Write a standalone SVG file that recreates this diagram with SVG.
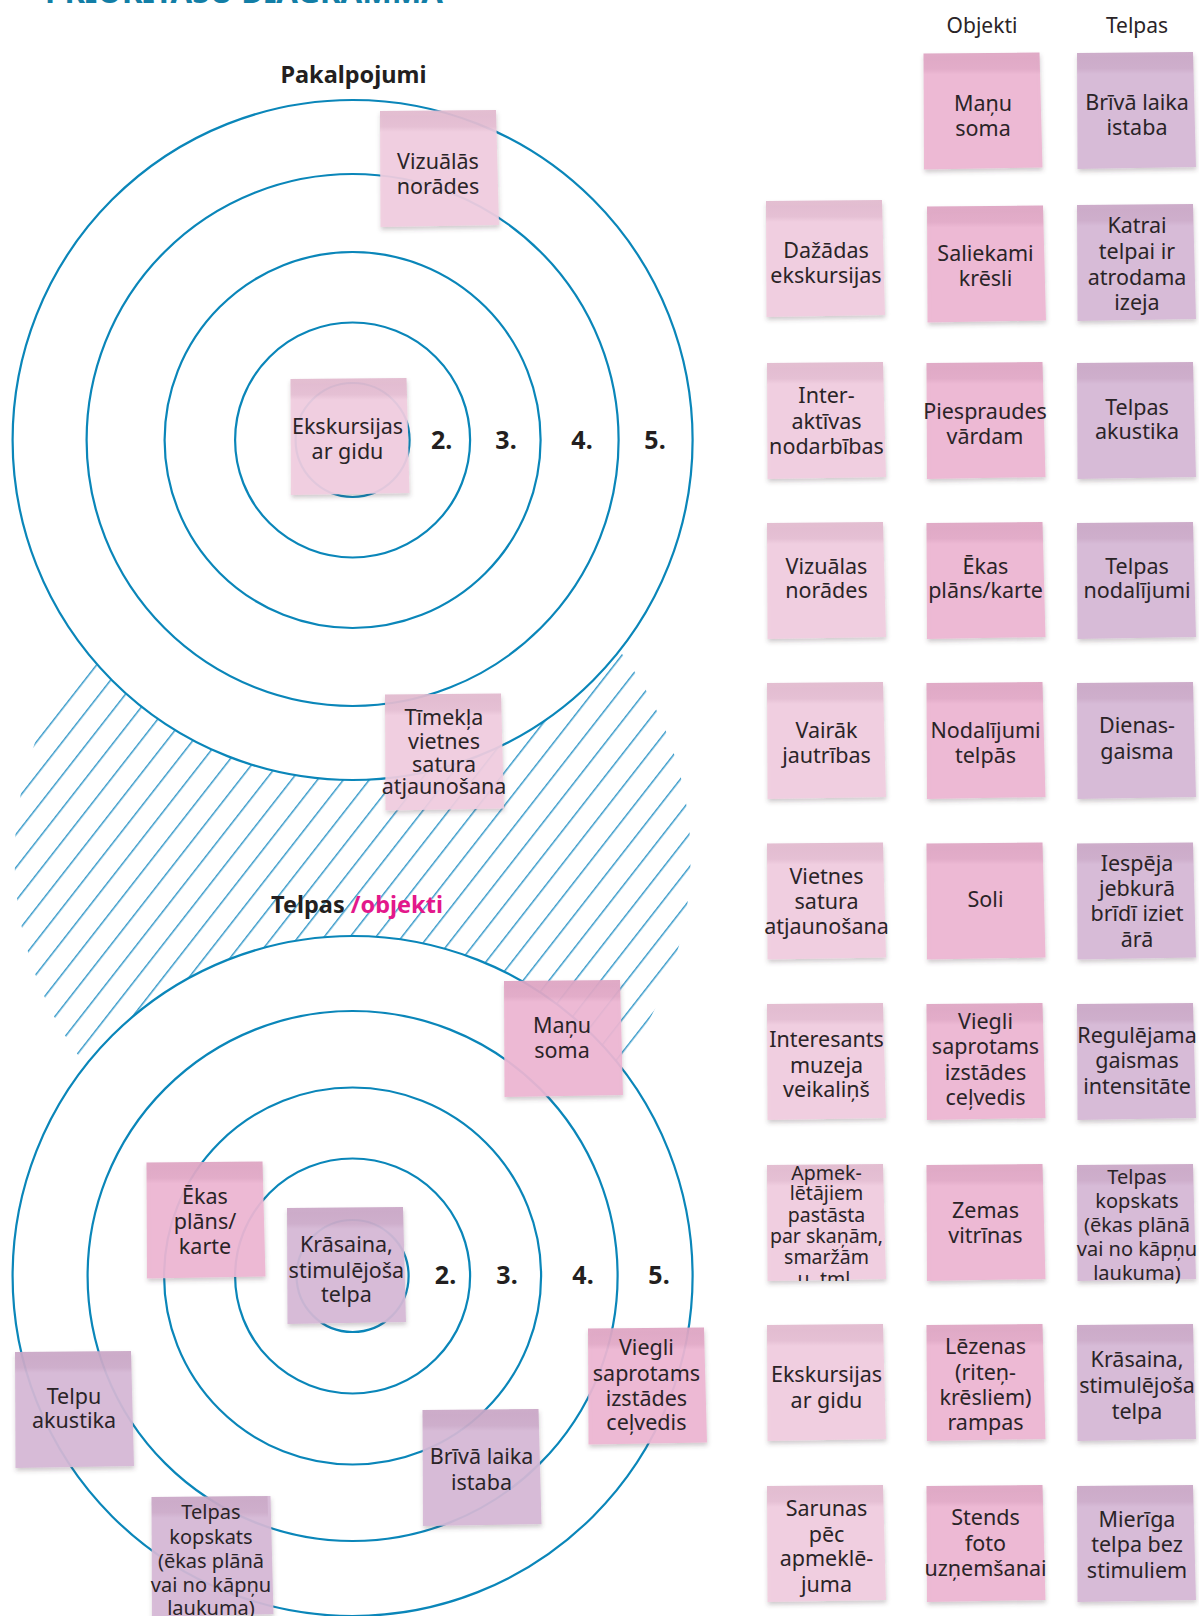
<svg xmlns="http://www.w3.org/2000/svg" xmlns:xlink="http://www.w3.org/1999/xlink" width="1199" height="1616" viewBox="0 0 1199 1616">
  <style>
    .ring { fill: none; stroke: #0a86b9; stroke-width: 2.2; }
    .ring-outer { fill: #ffffff; stroke: #0a86b9; stroke-width: 2.2; }
    .paper { fill-opacity: 0.92; filter: url(#shadow); }
    .obj { fill: #eeb6d2; }
    .svc { fill: #f1cde0; }
    .spc { fill: #d6b9d6; }
    .band { fill: url(#bandGrad); }
    .t { font-family: "Noto Sans", "DejaVu Sans", sans-serif; font-size: 21.5px; fill: #2a2427; text-anchor: middle; }
    .t.small { font-size: 20px; }
    .t.tiny { font-size: 19.5px; }
    .head { font-family: "Noto Sans", "DejaVu Sans", sans-serif; font-size: 21px; fill: #2a2427; text-anchor: middle; }
    .title { font-family: "Noto Sans", "DejaVu Sans", sans-serif; font-size: 23.5px; font-weight: 700; fill: #231f20; }
    .num { font-family: "Noto Sans", "DejaVu Sans", sans-serif; font-size: 25px; font-weight: 700; fill: #231f20; text-anchor: middle; }
    .accent { fill: #e3188b; }
  </style>
  <defs>
    <pattern id="hatch" patternUnits="userSpaceOnUse" width="20.4" height="40" patternTransform="rotate(38)">
      <line x1="16.3" y1="-2" x2="16.3" y2="42" stroke="#1d8cc2" stroke-width="1.3"/>
    </pattern>
    <linearGradient id="bandGrad" x1="0" y1="0" x2="0" y2="1">
      <stop offset="0" stop-color="#6a1f4c" stop-opacity="0.11"/>
      <stop offset="0.75" stop-color="#6a1f4c" stop-opacity="0.08"/>
      <stop offset="1" stop-color="#6a1f4c" stop-opacity="0"/>
    </linearGradient>
    <filter id="shadow" x="-10%" y="-10%" width="125%" height="130%">
      <feDropShadow dx="0.5" dy="3" stdDeviation="2" flood-color="#4a3a46" flood-opacity="0.28"/>
    </filter>
    <!-- sticky-note outline and its adhesive strip -->
    <path id="note" d="M0,1 L116,0 L119,115 L0.5,117 Z"/>
    <path id="noteWide" d="M0,1 L119,0 L122,118 L0.5,121 Z"/>
    <path id="band" d="M0,1 L116,0 L116.6,22 L0.1,22 Z"/>
    <clipPath id="clipApmek">
      <rect x="767" y="1164" width="120" height="117"/>
    </clipPath>
  </defs>

  <rect width="1199" height="1616" fill="#ffffff"/>

  <!-- page heading, only its lower edge falls inside the frame -->
  <text x="45" y="2.5" font-family="Noto Sans, DejaVu Sans, sans-serif" font-size="32" font-weight="700" fill="#127ea6" textLength="398" lengthAdjust="spacingAndGlyphs">PRIORITĀŠU DIAGRAMMA</text>

  <!-- hatched band between the two target diagrams -->
  <g id="hatch-band">
    <circle cx="352.6" cy="858" r="338" fill="url(#hatch)"/>
  </g>

  <!-- concentric rings: services (top) and spaces/objects (bottom) -->
  <g id="rings">
    <g id="rings-services">
      <circle class="ring-outer" cx="352.6" cy="440" r="340"/>
      <circle class="ring" cx="352.6" cy="440" r="266"/>
      <circle class="ring" cx="352.6" cy="440" r="188"/>
      <circle class="ring" cx="352.6" cy="440" r="117.5"/>
      <circle class="ring" cx="352.6" cy="440" r="57"/>
    </g>
    <g id="rings-spaces">
      <circle class="ring-outer" cx="352.6" cy="1276" r="340"/>
      <circle class="ring" cx="352.6" cy="1276" r="265"/>
      <circle class="ring" cx="352.6" cy="1276" r="188.5"/>
      <circle class="ring" cx="352.6" cy="1276" r="117.5"/>
      <circle class="ring" cx="352.6" cy="1276" r="56"/>
    </g>
  </g>

  <!-- diagram captions and ring numbers -->
  <g id="labels">
    <text class="title" x="353.5" y="83" text-anchor="middle">Pakalpojumi</text>
    <text class="title" x="271" y="913">Telpas <tspan class="accent">/objekti</tspan></text>
    <text class="num" x="441.6" y="449">2.</text>
    <text class="num" x="506" y="449">3.</text>
    <text class="num" x="582" y="449">4.</text>
    <text class="num" x="655" y="449">5.</text>
    <text class="num" x="445.5" y="1284">2.</text>
    <text class="num" x="507" y="1284">3.</text>
    <text class="num" x="583" y="1284">4.</text>
    <text class="num" x="659" y="1284">5.</text>
    <text class="head" x="982" y="33">Objekti</text>
    <text class="head" x="1137" y="33">Telpas</text>
  </g>

  <!-- notes placed on the service rings -->
  <g id="ring-svc-vizualas">
    <use href="#note" x="380" y="110" class="paper svc"/>
    <use href="#band" x="380" y="110" class="band"/>
    <text class="t"><tspan x="438" y="169.4">Vizuālās</tspan><tspan x="438" y="194.1">norādes</tspan></text>
  </g>
  <g id="ring-svc-ekskursijas">
    <use href="#note" x="290.5" y="378" class="paper svc"/>
    <use href="#band" x="290.5" y="378" class="band"/>
    <text class="t"><tspan x="347.5" y="434.3">Ekskursijas</tspan><tspan x="347.5" y="459.1">ar gidu</tspan></text>
  </g>
  <g id="ring-svc-timekla">
    <use href="#note" x="385" y="693.5" class="paper svc"/>
    <use href="#band" x="385" y="693.5" class="band"/>
    <text class="t"><tspan x="444" y="725.1">Tīmekļa</tspan><tspan x="444" y="748.8">vietnes</tspan><tspan x="444" y="771.5">satura</tspan><tspan x="444" y="794.2">atjaunošana</tspan></text>
  </g>

  <!-- notes placed on the space/object rings -->
  <g id="ring-obj-manu-soma">
    <use href="#note" x="504" y="980" class="paper obj"/>
    <use href="#band" x="504" y="980" class="band"/>
    <text class="t"><tspan x="562" y="1033.3">Maņu</tspan><tspan x="562" y="1058.1">soma</tspan></text>
  </g>
  <g id="ring-obj-ekas-plans">
    <use href="#note" x="146.5" y="1161.5" class="paper obj"/>
    <use href="#band" x="146.5" y="1161.5" class="band"/>
    <text class="t"><tspan x="205" y="1203.5">Ēkas</tspan><tspan x="205" y="1229.2">plāns/</tspan><tspan x="205" y="1254">karte</tspan></text>
  </g>
  <g id="ring-spc-krasaina">
    <use href="#note" x="287" y="1207" class="paper spc"/>
    <use href="#band" x="287" y="1207" class="band"/>
    <text class="t"><tspan x="346.4" y="1251.9">Krāsaina,</tspan><tspan x="346.4" y="1277.7">stimulējoša</tspan><tspan x="346.4" y="1302.4">telpa</tspan></text>
  </g>
  <g id="ring-spc-telpu-akustika">
    <use href="#note" x="15" y="1351" class="paper spc"/>
    <use href="#band" x="15" y="1351" class="band"/>
    <text class="t"><tspan x="74" y="1403.5">Telpu</tspan><tspan x="74" y="1428.2">akustika</tspan></text>
  </g>
  <g id="ring-obj-viegli">
    <use href="#note" x="588" y="1327.5" class="paper obj"/>
    <use href="#band" x="588" y="1327.5" class="band"/>
    <text class="t"><tspan x="646.4" y="1355">Viegli</tspan><tspan x="646.4" y="1380.8">saprotams</tspan><tspan x="646.4" y="1405.5">izstādes</tspan><tspan x="646.4" y="1430.3">ceļvedis</tspan></text>
  </g>
  <g id="ring-spc-briva">
    <use href="#note" x="422.5" y="1409" class="paper spc"/>
    <use href="#band" x="422.5" y="1409" class="band"/>
    <text class="t"><tspan x="481.5" y="1464.3">Brīvā laika</tspan><tspan x="481.5" y="1490.1">istaba</tspan></text>
  </g>
  <g id="ring-spc-kopskats">
    <use href="#noteWide" x="151.5" y="1496" class="paper spc"/>
    <use href="#band" x="151.5" y="1496" class="band"/>
    <text class="t small"><tspan x="211" y="1518.9">Telpas</tspan><tspan x="211" y="1543.7">kopskats</tspan><tspan x="211" y="1568.4">(ēkas plānā</tspan><tspan x="211" y="1592.1">vai no kāpņu</tspan><tspan x="211" y="1614.8">laukuma)</tspan></text>
  </g>

  <!-- card grid: services / objects / spaces -->
  <g id="grid-obj-manu-soma">
    <use href="#note" x="923.5" y="52.5" class="paper obj"/>
    <use href="#band" x="923.5" y="52.5" class="band"/>
    <text class="t"><tspan x="983" y="110.6">Maņu</tspan><tspan x="983" y="136.4">soma</tspan></text>
  </g>
  <g id="grid-spc-briva">
    <use href="#note" x="1077" y="52" class="paper spc"/>
    <use href="#band" x="1077" y="52" class="band"/>
    <text class="t"><tspan x="1137" y="109.6">Brīvā laika</tspan><tspan x="1137" y="135.3">istaba</tspan></text>
  </g>

  <g id="grid-svc-dazadas">
    <use href="#note" x="766" y="200" class="paper svc"/>
    <use href="#band" x="766" y="200" class="band"/>
    <text class="t"><tspan x="826" y="258">Dažādas</tspan><tspan x="826" y="282.8">ekskursijas</tspan></text>
  </g>
  <g id="grid-obj-saliekami">
    <use href="#note" x="927" y="205.5" class="paper obj"/>
    <use href="#band" x="927" y="205.5" class="band"/>
    <text class="t"><tspan x="985.5" y="261.1">Saliekami</tspan><tspan x="985.5" y="285.9">krēsli</tspan></text>
  </g>
  <g id="grid-spc-katrai">
    <use href="#note" x="1077" y="204" class="paper spc"/>
    <use href="#band" x="1077" y="204" class="band"/>
    <text class="t"><tspan x="1137" y="233.3">Katrai</tspan><tspan x="1137" y="259.1">telpai ir</tspan><tspan x="1137" y="284.8">atrodama</tspan><tspan x="1137" y="309.6">izeja</tspan></text>
  </g>

  <g id="grid-svc-interaktivas">
    <use href="#note" x="767" y="362" class="paper svc"/>
    <use href="#band" x="767" y="362" class="band"/>
    <text class="t"><tspan x="826.5" y="403.4">Inter-</tspan><tspan x="826.5" y="429.2">aktīvas</tspan><tspan x="826.5" y="453.9">nodarbības</tspan></text>
  </g>
  <g id="grid-obj-piespraudes">
    <use href="#note" x="926.5" y="362" class="paper obj"/>
    <use href="#band" x="926.5" y="362" class="band"/>
    <text class="t"><tspan x="985" y="418.9">Piespraudes</tspan><tspan x="985" y="443.6">vārdam</tspan></text>
  </g>
  <g id="grid-spc-akustika">
    <use href="#note" x="1077" y="362" class="paper spc"/>
    <use href="#band" x="1077" y="362" class="band"/>
    <text class="t"><tspan x="1137" y="414.7">Telpas</tspan><tspan x="1137" y="438.5">akustika</tspan></text>
  </g>

  <g id="grid-svc-vizualas">
    <use href="#note" x="767" y="522" class="paper svc"/>
    <use href="#band" x="767" y="522" class="band"/>
    <text class="t"><tspan x="826.5" y="573.5">Vizuālas</tspan><tspan x="826.5" y="598.3">norādes</tspan></text>
  </g>
  <g id="grid-obj-ekas-plans">
    <use href="#note" x="926.5" y="522" class="paper obj"/>
    <use href="#band" x="926.5" y="522" class="band"/>
    <text class="t"><tspan x="985.5" y="573.5">Ēkas</tspan><tspan x="985.5" y="598.3">plāns/karte</tspan></text>
  </g>
  <g id="grid-spc-nodalijumi">
    <use href="#note" x="1077" y="522" class="paper spc"/>
    <use href="#band" x="1077" y="522" class="band"/>
    <text class="t"><tspan x="1137" y="573.5">Telpas</tspan><tspan x="1137" y="598.3">nodalījumi</tspan></text>
  </g>

  <g id="grid-svc-vairak">
    <use href="#note" x="767" y="682" class="paper svc"/>
    <use href="#band" x="767" y="682" class="band"/>
    <text class="t"><tspan x="826.5" y="737.5">Vairāk</tspan><tspan x="826.5" y="763.2">jautrības</tspan></text>
  </g>
  <g id="grid-obj-nodalijumi">
    <use href="#note" x="926.5" y="682" class="paper obj"/>
    <use href="#band" x="926.5" y="682" class="band"/>
    <text class="t"><tspan x="985.5" y="737.5">Nodalījumi</tspan><tspan x="985.5" y="763.2">telpās</tspan></text>
  </g>
  <g id="grid-spc-dienasgaisma">
    <use href="#note" x="1077" y="682" class="paper spc"/>
    <use href="#band" x="1077" y="682" class="band"/>
    <text class="t"><tspan x="1137" y="733.3">Dienas-</tspan><tspan x="1137" y="759.1">gaisma</tspan></text>
  </g>

  <g id="grid-svc-vietnes">
    <use href="#note" x="767" y="842.5" class="paper svc"/>
    <use href="#band" x="767" y="842.5" class="band"/>
    <text class="t"><tspan x="826.5" y="883.9">Vietnes</tspan><tspan x="826.5" y="908.6">satura</tspan><tspan x="826.5" y="934.4">atjaunošana</tspan></text>
  </g>
  <g id="grid-obj-soli">
    <use href="#note" x="926.5" y="842.5" class="paper obj"/>
    <use href="#band" x="926.5" y="842.5" class="band"/>
    <text class="t"><tspan x="985.5" y="906.5">Soli</tspan></text>
  </g>
  <g id="grid-spc-iespeja">
    <use href="#note" x="1077" y="842.5" class="paper spc"/>
    <use href="#band" x="1077" y="842.5" class="band"/>
    <text class="t"><tspan x="1137" y="870.5">Iespēja</tspan><tspan x="1137" y="896.2">jebkurā</tspan><tspan x="1137" y="921">brīdī iziet</tspan><tspan x="1137" y="946.7">ārā</tspan></text>
  </g>

  <g id="grid-svc-veikalins">
    <use href="#note" x="767" y="1003" class="paper svc"/>
    <use href="#band" x="767" y="1003" class="band"/>
    <text class="t"><tspan x="826.5" y="1046.7">Interesants</tspan><tspan x="826.5" y="1072.5">muzeja</tspan><tspan x="826.5" y="1097.3">veikaliņš</tspan></text>
  </g>
  <g id="grid-obj-viegli">
    <use href="#note" x="926.5" y="1003" class="paper obj"/>
    <use href="#band" x="926.5" y="1003" class="band"/>
    <text class="t"><tspan x="985.5" y="1029.2">Viegli</tspan><tspan x="985.5" y="1054">saprotams</tspan><tspan x="985.5" y="1079.7">izstādes</tspan><tspan x="985.5" y="1104.5">ceļvedis</tspan></text>
  </g>
  <g id="grid-spc-regulejama">
    <use href="#note" x="1077" y="1003" class="paper spc"/>
    <use href="#band" x="1077" y="1003" class="band"/>
    <text class="t"><tspan x="1137" y="1042.6">Regulējama</tspan><tspan x="1137" y="1068.4">gaismas</tspan><tspan x="1137" y="1094.2">intensitāte</tspan></text>
  </g>

  <g id="grid-svc-apmekletajiem">
    <use href="#note" x="767" y="1164" class="paper svc"/>
    <use href="#band" x="767" y="1164" class="band"/>
    <text class="t tiny" clip-path="url(#clipApmek)"><tspan x="826.5" y="1179.7">Apmek-</tspan><tspan x="826.5" y="1200.4">lētājiem</tspan><tspan x="826.5" y="1222">pastāsta</tspan><tspan x="826.5" y="1242.6">par skaņām,</tspan><tspan x="826.5" y="1264.3">smaržām</tspan><tspan x="826.5" y="1285.9">u. tml.</tspan></text>
  </g>
  <g id="grid-obj-zemas">
    <use href="#note" x="926.5" y="1164" class="paper obj"/>
    <use href="#band" x="926.5" y="1164" class="band"/>
    <text class="t"><tspan x="985.5" y="1217.9">Zemas</tspan><tspan x="985.5" y="1242.6">vitrīnas</tspan></text>
  </g>
  <g id="grid-spc-kopskats">
    <use href="#note" x="1077" y="1164" class="paper spc"/>
    <use href="#band" x="1077" y="1164" class="band"/>
    <text class="t small"><tspan x="1137" y="1183.9">Telpas</tspan><tspan x="1137" y="1207.6">kopskats</tspan><tspan x="1137" y="1232.3">(ēkas plānā</tspan><tspan x="1137" y="1256">vai no kāpņu</tspan><tspan x="1137" y="1279.8">laukuma)</tspan></text>
  </g>

  <g id="grid-svc-ekskursijas">
    <use href="#note" x="767" y="1324" class="paper svc"/>
    <use href="#band" x="767" y="1324" class="band"/>
    <text class="t"><tspan x="826.5" y="1381.8">Ekskursijas</tspan><tspan x="826.5" y="1407.6">ar gidu</tspan></text>
  </g>
  <g id="grid-obj-lezenas">
    <use href="#note" x="926.5" y="1324" class="paper obj"/>
    <use href="#band" x="926.5" y="1324" class="band"/>
    <text class="t"><tspan x="985.5" y="1354">Lēzenas</tspan><tspan x="985.5" y="1379.8">(riteņ-</tspan><tspan x="985.5" y="1404.5">krēsliem)</tspan><tspan x="985.5" y="1430.3">rampas</tspan></text>
  </g>
  <g id="grid-spc-krasaina">
    <use href="#note" x="1077" y="1324" class="paper spc"/>
    <use href="#band" x="1077" y="1324" class="band"/>
    <text class="t"><tspan x="1137" y="1367.4">Krāsaina,</tspan><tspan x="1137" y="1393.2">stimulējoša</tspan><tspan x="1137" y="1418.9">telpa</tspan></text>
  </g>

  <g id="grid-svc-sarunas">
    <use href="#note" x="767" y="1485" class="paper svc"/>
    <use href="#band" x="767" y="1485" class="band"/>
    <text class="t"><tspan x="826.5" y="1515.9">Sarunas</tspan><tspan x="826.5" y="1541.6">pēc</tspan><tspan x="826.5" y="1566.4">apmeklē-</tspan><tspan x="826.5" y="1592.1">juma</tspan></text>
  </g>
  <g id="grid-obj-stends">
    <use href="#note" x="926.5" y="1485" class="paper obj"/>
    <use href="#band" x="926.5" y="1485" class="band"/>
    <text class="t"><tspan x="985.5" y="1525.1">Stends</tspan><tspan x="985.5" y="1550.9">foto</tspan><tspan x="985.5" y="1575.7">uzņemšanai</tspan></text>
  </g>
  <g id="grid-spc-mieriga">
    <use href="#note" x="1077" y="1485" class="paper spc"/>
    <use href="#band" x="1077" y="1485" class="band"/>
    <text class="t"><tspan x="1137" y="1527.2">Mierīga</tspan><tspan x="1137" y="1551.9">telpa bez</tspan><tspan x="1137" y="1577.7">stimuliem</tspan></text>
  </g>
</svg>
